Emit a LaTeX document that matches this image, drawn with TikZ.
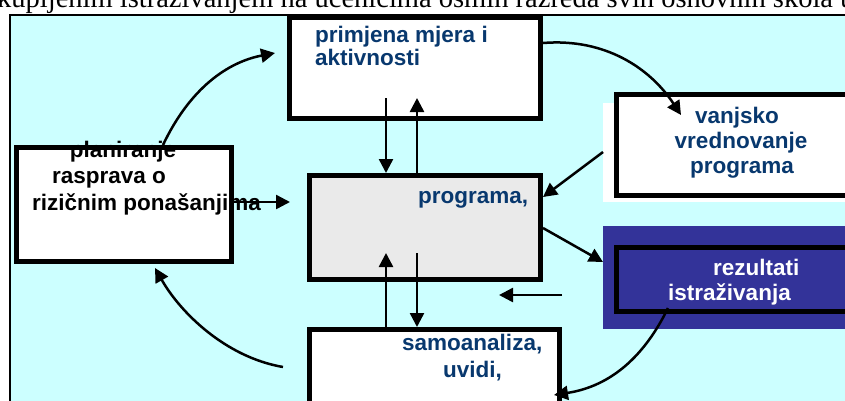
\documentclass[tikz,border=0pt]{standalone}
\usepackage{fontspec}
\setmainfont{Liberation Serif}
\setsansfont{Liberation Sans}
\usepackage{tikz}
\usetikzlibrary{calc}
\usetikzlibrary{arrows.meta}

\definecolor{bgcyan}{RGB}{204,255,255}
\definecolor{navy}{RGB}{8,56,110}
\definecolor{boxgray}{RGB}{234,234,234}
\definecolor{deepblue}{RGB}{51,51,153}

\tikzset{
  box/.style={rectangle, draw=black, line width=5pt, inner sep=0pt},
  backdrop/.style={rectangle, draw=none, inner sep=0pt, outer sep=0pt},
  arr/.style={line width=2.5pt, -{Triangle[length=14pt,width=14pt]}},
  lbl/.style={inner sep=0pt, font=\sffamily\bfseries\fontsize{22.5}{24}\selectfont},
}

\begin{document}
\begin{tikzpicture}[x=1pt, y=-1pt]
\useasboundingbox (0,0) rectangle (845,400);
\clip (0,0) rectangle (845,400);

% Line of text above the frame
\node[anchor=base west, inner sep=0pt, font=\fontsize{28.5}{30}\selectfont] (caption) at (-3,7)
  {kupljenim istraživanjem na učenicima osmih razreda svih osnovnih škola u};

% Drawing frame
\draw[fill=bgcyan, line width=1.5pt] (10,15) rectangle (880,440);

% Boxes
\node[box, fill=white, minimum width=251pt, minimum height=101pt] (mjere) at (415,68) {};
\node[box, fill=boxgray, minimum width=231pt, minimum height=104pt] (prog) at (425,227.5) {};
\node[box, fill=white, minimum width=250pt, minimum height=101pt] (samo) at (434.5,380) {};
\node[backdrop, fill=white, minimum width=247pt, minimum height=99pt] (vbg) at (726.5,152.5) {};
\node[box, fill=white, minimum width=253pt, minimum height=101pt] (vanj) at (743,145) {};
\node[backdrop, fill=deepblue, minimum width=247pt, minimum height=103pt] (rbg) at (726.5,277.5) {};
\node[box, fill=deepblue, minimum width=253pt, minimum height=64pt] (rez) at (743,279.5) {};
\node[box, draw=none, fill=white, minimum width=210pt, minimum height=109pt] (plan) at (123.5,204) {};

% Marking texts
\node[lbl, anchor=base, text=black] (plan1) at (123,157) {planiranje};
\node[lbl, anchor=base west, text=black] (plan2) at (52,183) {rasprava o};
\node[lbl, anchor=base west, text=black] (plan3) at (32,210) {rizičnim ponašanjima};
\draw[line width=5pt] (plan.south west) rectangle (plan.north east);

\node[lbl, anchor=base west, text=navy] (mjere1) at (315,42) {primjena mjera i};
\node[lbl, anchor=base west, text=navy] (mjere2) at (315,65) {aktivnosti};
\node[lbl, anchor=base west, text=navy] (prog1) at (418,203) {programa,};
\node[lbl, anchor=base, text=navy] (vanj1) at (737,123) {vanjsko};
\node[lbl, anchor=base, text=navy] (vanj2) at (741,148) {vrednovanje};
\node[lbl, anchor=base, text=navy] (vanj3) at (742,173) {programa};
\node[lbl, anchor=base west, text=white] (rez1) at (713,275) {rezultati};
\node[lbl, anchor=base west, text=white] (rez2) at (668,300) {istraživanja};
\node[lbl, anchor=base west, text=navy] (samo1) at (402,350) {samoanaliza,};
\node[lbl, anchor=base west, text=navy] (samo2) at (443,377) {uvidi,};

% Free ends
\coordinate (dA) at (386,98);
\coordinate (uA) at (417,98);
\coordinate (uB) at (386,253);
\coordinate (dB) at (417,253);
\coordinate (planTo) at (290,202);
\coordinate (backFrom) at (562,295);
\coordinate (backTo) at (499,295);

% Drawing arrows between the boxes
\draw[arr] (dA) -- (dA |- prog.north);
\draw[arr] (uA |- prog.north) -- (uA);
\draw[arr] (uB |- samo.north) -- (uB);
\draw[arr] (dB) -- (dB |- samo.north);
\draw[arr] (plan.east |- planTo) -- (planTo);
\draw[arr] ($(vbg.north west)+(0,49)$) -- ($(prog.north east)+(0,24)$);
\draw[arr] ($(prog.north east)+(0,55)$) -- ($(rbg.north west)+(0,36)$);
\draw[arr] (backFrom) -- (backTo);

% Drawing curved arrows
\draw[arr] ($(plan.north west)+(147,-2)$) .. controls (190,88) and (228,62) .. ($(mjere.north west)+(-12,38)$);
\draw[arr] ($(mjere.north east)+(0,28)$) .. controls (605,38) and (650,68) .. ($(vanj.north west)+(67,23)$);
\draw[arr] ($(samo.north west)+(-24,40)$) .. controls (225,357) and (180,312) .. ($(plan.south west)+(139,7)$);
\draw[arr] ($(rez.north west)+(54,63)$) .. controls (645,355) and (612,386) .. ($(samo.north east)+(-8,68)$);
\end{tikzpicture}
\end{document}
